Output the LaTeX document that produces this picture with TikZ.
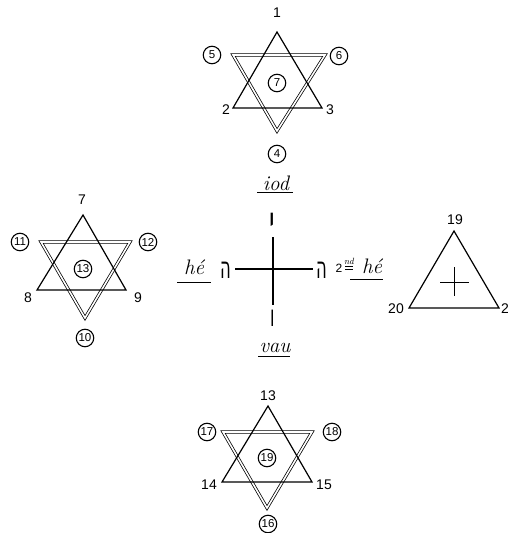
\documentclass[tikz,border=0pt]{standalone}
\usepackage{fontspec}
\setmainfont{Liberation Sans}
\newfontfamily\hebfont[Script=Hebrew]{DejaVu Sans}
\newfontfamily\hand{Latin Modern Roman}
\begin{document}
\begin{tikzpicture}[x=1pt,y=-1pt,
  upline/.style={line width=1.2pt, line join=miter},
  dnline/.style={double, double distance=1.6pt, line width=0.75pt, line join=miter},
  num/.style={font=\fontsize{14}{14}\selectfont, inner sep=0pt},
  cnum/.style={circle, draw, line width=1.1pt, minimum size=17.5pt, inner sep=0pt, font=\fontsize{11.5}{11.5}\selectfont},
  word/.style={font=\hand\itshape\fontsize{21}{21}\selectfont, inner sep=0pt},
  uline/.style={line width=1pt},
  heb/.style={font=\hebfont\fontsize{30}{30}\selectfont, inner sep=0pt, xscale=0.55}]
\useasboundingbox (0,0) rectangle (507,533);
\fill[white] (0,0) rectangle (507,533);

% ---------- top star ----------
\coordinate (tA) at (277,32); \coordinate (tB) at (233,108); \coordinate (tC) at (322,108);
\coordinate (tD) at (233,55); \coordinate (tE) at (325,55); \coordinate (tF) at (277,131);
\draw[dnline] (tD) -- (tE) -- (tF) -- cycle;
\draw[upline] (tA) -- (tB) -- (tC) -- cycle;
\node[num] (n1) at (277,13) {1};
\node[num] (n2) at (226,110) {2};
\node[num] (n3) at (330,110) {3};
\node[cnum] (n4) at (277,154) {4};
\node[cnum] (n5) at (212,55) {5};
\node[cnum] (n6) at (339,56) {6};
\node[cnum] (n7) at (277,83) {7};
\node[word, anchor=base] (iod) at (276,190) {iod};
\draw[uline] (257,192) -- (293,192);

% ---------- left star ----------
\coordinate (lA) at (83,215); \coordinate (lB) at (37,290); \coordinate (lC) at (126,290);
\coordinate (lD) at (41,242); \coordinate (lE) at (130,242); \coordinate (lF) at (85,318);
\draw[dnline] (lD) -- (lE) -- (lF) -- cycle;
\draw[upline] (lA) -- (lB) -- (lC) -- cycle;
\node[num] (m7) at (82,200) {7};
\node[num] (m8) at (28,298) {8};
\node[num] (m9) at (138,298) {9};
\node[cnum] (m10) at (85,338) {10};
\node[cnum] (m11) at (20,242) {11};
\node[cnum] (m12) at (148,242) {12};
\node[cnum] (m13) at (83,269) {13};

% ---------- cross ----------
\coordinate (cT) at (273,237); \coordinate (cB) at (273,305);
\coordinate (cL) at (235,269); \coordinate (cR) at (313,269);
\draw[line width=1.1pt] (cT) -- (cB);
\draw[line width=1.1pt] (cL) -- (cR);
\node[heb, yscale=1.3, xscale=1.5] (yod) at (272,224) {י};
\node[heb] (heL) at (226,270) {ה};
\node[heb] (heR) at (322,270) {ה};
\node[heb] (vav) at (273,318) {ו};
\node[word, anchor=base] (he1) at (194,274) {hé};
\draw[uline] (177,282) -- (211,282);
\node[num, font=\fontsize{12}{12}\selectfont] (sec) at (339,268) {2};
\node[inner sep=0pt, font=\hand\itshape\fontsize{9}{9}\selectfont] (nd) at (349,261) {nd};
\draw[line width=0.6pt] (345,266.5) -- (353,266.5);
\draw[line width=0.6pt] (345,269) -- (353,269);
\node[word, anchor=base] (he2) at (372,273) {hé};
\draw[uline] (350,279) -- (383,279);
\node[word, anchor=base] (vau) at (275,352) {vau};
\draw[uline] (258,356) -- (290,356);

% ---------- right triangle ----------
\coordinate (rA) at (454,231); \coordinate (rB) at (409,308); \coordinate (rC) at (499,308);
\draw[upline] (rA) -- (rB) -- (rC) -- cycle;
\coordinate (xL) at (440,282); \coordinate (xR) at (469,282);
\coordinate (xT) at (454,267); \coordinate (xB) at (454,296);
\draw[line width=0.9pt] (xL) -- (xR);
\draw[line width=0.9pt] (xT) -- (xB);
\node[num] (r19) at (455,220) {19};
\node[num] (r20) at (396,309) {20};
\node[num, anchor=west] (r21) at (501,309) {21};

% ---------- bottom star ----------
\coordinate (bA) at (268,406); \coordinate (bB) at (222,482); \coordinate (bC) at (312,482);
\coordinate (bD) at (223,432); \coordinate (bE) at (312,432); \coordinate (bF) at (267,508);
\draw[dnline] (bD) -- (bE) -- (bF) -- cycle;
\draw[upline] (bA) -- (bB) -- (bC) -- cycle;
\node[num] (b13) at (268,396) {13};
\node[num] (b14) at (209,485) {14};
\node[num] (b15) at (324,485) {15};
\node[cnum] (b16) at (268,524) {16};
\node[cnum] (b17) at (207,432) {17};
\node[cnum] (b18) at (332,432) {18};
\node[cnum] (b19) at (267,458) {19};
\end{tikzpicture}
\end{document}
